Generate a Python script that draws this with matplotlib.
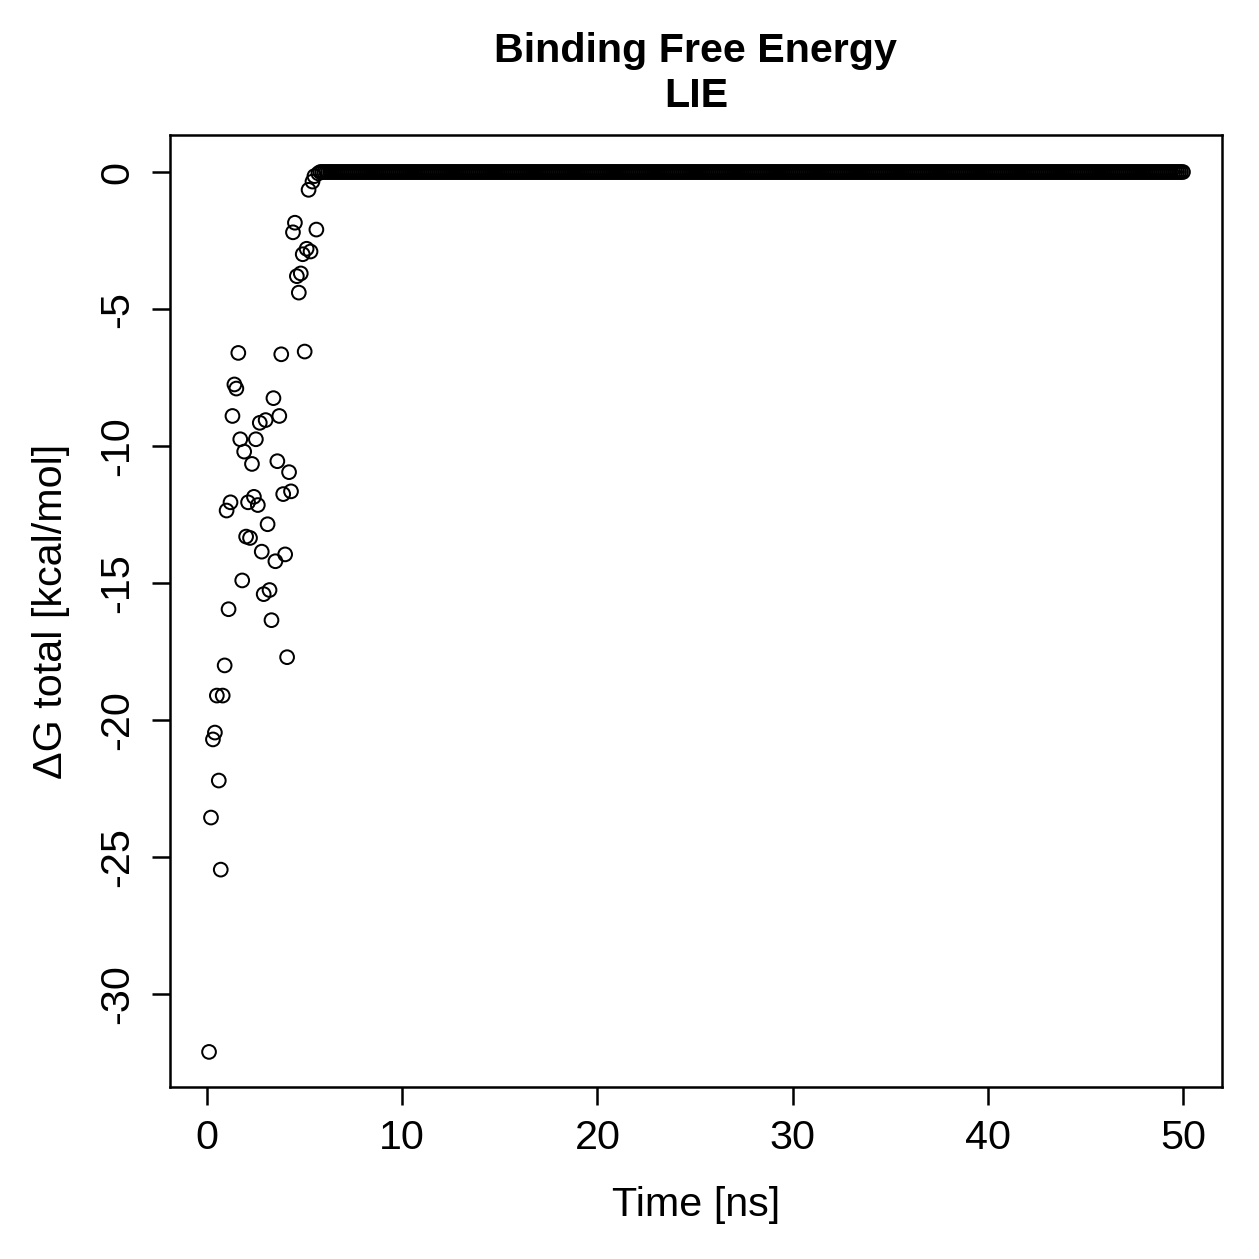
import numpy as np
import matplotlib
matplotlib.use("Agg")
import matplotlib.pyplot as plt

plt.rcParams['font.family'] = ['Liberation Sans', 'DejaVu Sans']

# Early frames (0.1 ns steps) with non-zero binding free energy
early_time = [0.1, 0.2, 0.3, 0.4, 0.5, 0.6, 0.7, 0.8, 0.9, 1.0,
              1.1, 1.2, 1.3, 1.4, 1.5, 1.6, 1.7, 1.8, 1.9, 2.0,
              2.1, 2.2, 2.3, 2.4, 2.5, 2.6, 2.7, 2.8, 2.9, 3.0,
              3.1, 3.2, 3.3, 3.4, 3.5, 3.6, 3.7, 3.8, 3.9, 4.0,
              4.1, 4.2, 4.3, 4.4, 4.5, 4.6, 4.7, 4.8, 4.9, 5.0,
              5.1, 5.2, 5.3, 5.4, 5.5, 5.6, 5.7]
early_dg = [-32.1, -23.55, -20.7, -20.45, -19.1, -22.2, -25.45, -19.1, -18.0, -12.35,
            -15.95, -12.05, -8.9, -7.75, -7.9, -6.6, -9.75, -14.9, -10.2, -13.3,
            -12.05, -13.35, -10.65, -11.85, -9.75, -12.15, -9.15, -13.85, -15.4, -9.05,
            -12.85, -15.25, -16.35, -8.25, -14.2, -10.55, -8.9, -6.65, -11.75, -13.95,
            -17.7, -10.95, -11.65, -2.2, -1.85, -3.8, -4.4, -3.7, -3.0, -6.55,
            -2.8, -0.65, -2.9, -0.35, -0.15, -2.1, -0.05]

# Later frames: binding energy essentially zero
late_time = [round(0.1 * i, 1) for i in range(58, 501)]
late_dg = [0.0] * len(late_time)

time = early_time + late_time
dg = early_dg + late_dg

W = 1259
fig = plt.figure(figsize=(W / 180, W / 180), dpi=180)
ax = fig.add_axes([170 / W, 1 - 1087 / W, (1222 - 170) / W, (1087 - 135) / W])

ax.scatter(time, dg, s=30, facecolors='none', edgecolors='black', linewidths=0.8)

ax.set_xlim(-1.9, 52.0)
ax.set_ylim(-33.38, 1.35)
ax.set_xticks([0, 10, 20, 30, 40, 50])
ax.set_yticks([0, -5, -10, -15, -20, -25, -30])
ax.set_yticklabels(['0', '-5', '-10', '-15', '-20', '-25', '-30'], rotation=90, va='center')

for s in ax.spines.values():
    s.set_linewidth(1.0)
ax.tick_params(direction='out', length=7.2, width=1.0, labelsize=16.5)
ax.tick_params(axis='x', pad=5.5)
ax.tick_params(axis='y', pad=6.2)

ax.set_xlabel('Time [ns]', fontsize=16.5, labelpad=11.5)
ax.set_ylabel('ΔG total [kcal/mol]', fontsize=16.5, labelpad=11.5)
ax.set_title('Binding Free Energy\nLIE', fontsize=16.5, fontweight='bold', pad=11.2, linespacing=1.22)

fig.savefig('out.png', dpi=180)
